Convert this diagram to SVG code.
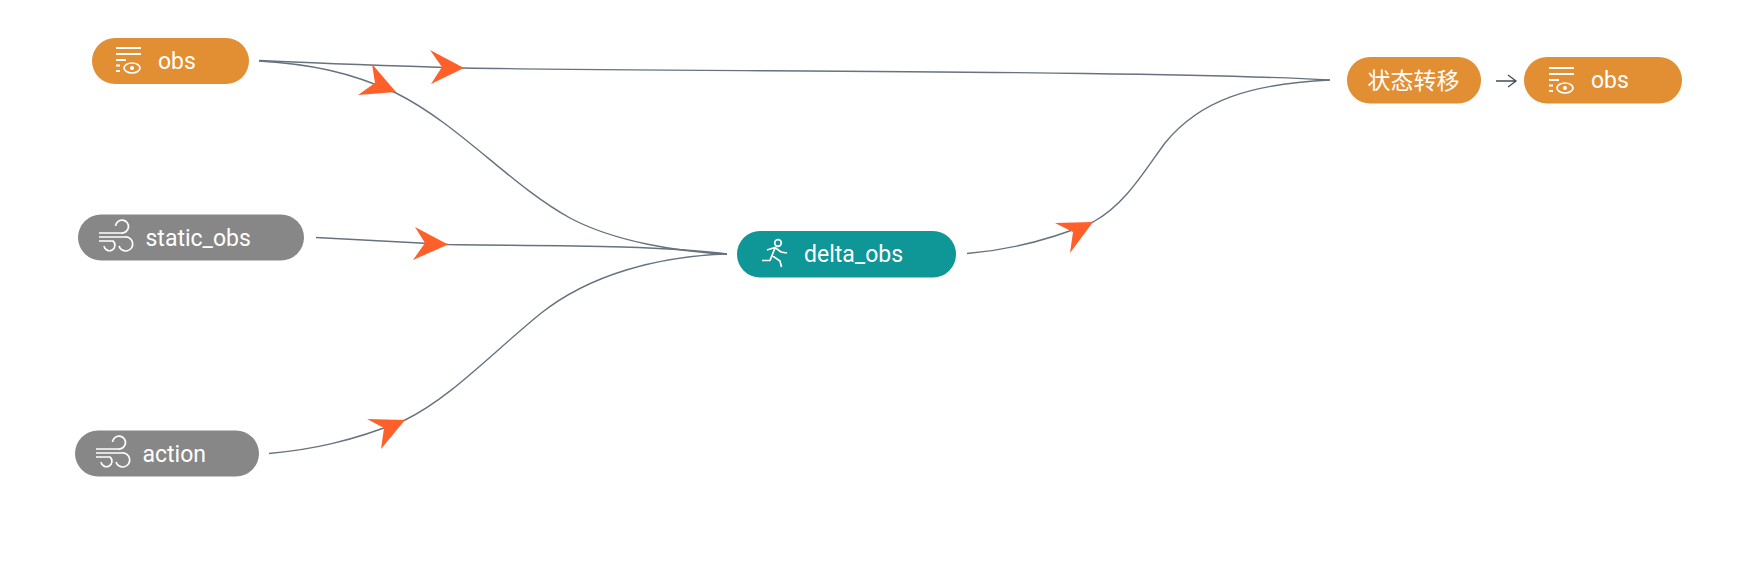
<svg xmlns="http://www.w3.org/2000/svg" width="1750" height="581" viewBox="0 0 1750 581">
<style>
.bg{fill:#fff}
.pill-o{fill:#e28e33}
.pill-g{fill:#878787}
.pill-t{fill:#0f9696}
.lbl{font-family:Roboto,"Noto Sans CJK SC",sans-serif;font-size:23px;fill:#fff}
.cjk{font-size:23px}
.ic{fill:none;stroke:#fff;stroke-width:1.7}
.edge{fill:none;stroke:#66727f;stroke-width:1.4}
.head{fill:#ff6029}
</style>
<defs>
<g id="i-obs" class="ic">
<path d="M116,48H141M116,54H141M116,60H126M116,65.500H120M116,71H120" stroke-width="2"/>
<ellipse cx="132" cy="68" rx="8" ry="5"/>
<circle cx="132" cy="68" r="1.200" fill="#fff"/>
</g>
<g id="i-wind" class="ic">
<path d="M99,233H121A6.500,6.500 0 1 0 115.500,226"/>
<path d="M99,237H125A7,7 0 1 1 119,246"/>
<path d="M99,241H113A5.500,5.500 0 1 1 104,246"/>
</g>
</defs>
<rect class="bg" width="1750" height="581"/>
<g id="connectors">
<path class="edge" d="M259,60.500C330,64 400,66 463,68C700,72 1150,70 1330,80"/>
<path class="edge" d="M259,61C310,64 350,72 396,93C460,125 510,185 570,218C615,242 680,252 727,254"/>
<path class="edge" d="M316,237.500L448,244.500C520,246 650,244 727,254"/>
<path class="edge" d="M269,453.500C310,450 350,442 405,420C450,398 490,355 540,314C590,274 660,256 727,254"/>
<path class="edge" d="M967,253.500C1010,250 1050,240 1093,222C1125,205 1145,170 1165,143C1200,100 1250,84 1330,80"/>
<path class="head" d="M430,50L464,68L431,84L442,67Z"/>
<path class="head" d="M372,64L396,92L358,95L375,83Z"/>
<path class="head" d="M415,227L448,244.500L413,260L425,243Z"/>
<path class="head" d="M367,419L405,420L381,449L384,428Z"/>
<path class="head" d="M1055,223L1093,222L1070,253L1073,232Z"/>
<path d="M1496,81H1516M1508,75L1516,81L1508,87" fill="none" stroke="#444c55" stroke-width="1.300"/>
</g>
<g id="node-obs">
<rect class="pill-o" x="92" y="38" width="157" height="46" rx="23"/>
<use href="#i-obs"/>
<text class="lbl" x="158" y="68.500">obs</text>
</g>
<g id="node-static_obs">
<rect class="pill-g" x="78" y="214.500" width="226" height="46" rx="23"/>
<use href="#i-wind"/>
<text class="lbl" x="145.500" y="245.500">static_obs</text>
</g>
<g id="node-action">
<rect class="pill-g" x="75" y="430.500" width="184" height="46" rx="23"/>
<use href="#i-wind" transform="translate(-3,216)"/>
<text class="lbl" x="142.500" y="461.500">action</text>
</g>
<g id="node-delta_obs">
<rect class="pill-t" x="737" y="231" width="219" height="46.500" rx="23"/>
<g class="ic">
<circle cx="778" cy="243" r="3.300"/>
<path d="M767,250L775,247.500L781,252L787,253M775,248L770,260.500H762M772,255.500L780,261L781.500,267"/>
</g>
<text class="lbl" x="804" y="261.500">delta_obs</text>
</g>
<g id="node-state">
<rect class="pill-o" x="1347" y="57" width="134" height="46.500" rx="23"/>
<text class="lbl cjk" x="1413.500" y="88.500" text-anchor="middle">状态转移</text>
</g>
<g id="node-obs2">
<rect class="pill-o" x="1524" y="57" width="158" height="46.500" rx="23"/>
<use href="#i-obs" transform="translate(1433,20)"/>
<text class="lbl" x="1591" y="87.500">obs</text>
</g>
</svg>
